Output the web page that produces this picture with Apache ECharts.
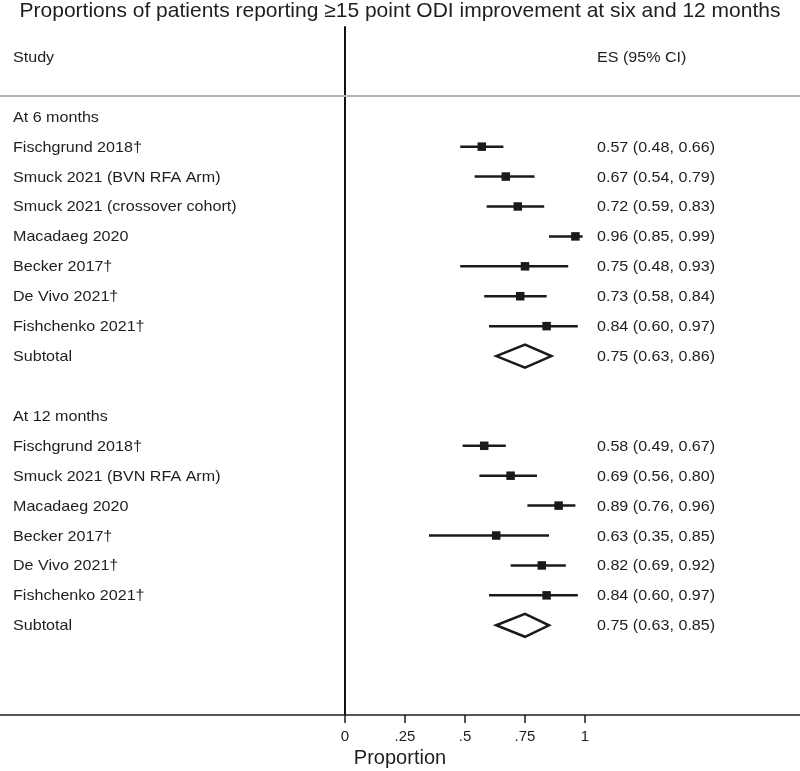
<!DOCTYPE html>
<html><head><meta charset="utf-8">
<script src="https://cdn.jsdelivr.net/npm/echarts@6/dist/echarts.min.js"></script>
<style>html,body{margin:0;padding:0;background:#fff}#c{width:800px;height:771px}</style>
</head><body><div id="c"></div>
<script>
const titleText = 'Proportions of patients reporting \u226515 point ODI improvement at six and 12 months';
const groupNames = ['At 6 months', 'At 12 months'];
const studies6 = ['Fischgrund 2018\u2020', 'Smuck 2021 (BVN RFA Arm)', 'Smuck 2021 (crossover cohort)', 'Macadaeg 2020', 'Becker 2017\u2020', 'De Vivo 2021\u2020', 'Fishchenko 2021\u2020'];
const es6 = [0.57, 0.67, 0.72, 0.96, 0.75, 0.73, 0.84];
const lo6 = [0.48, 0.54, 0.59, 0.85, 0.48, 0.58, 0.60];
const hi6 = [0.66, 0.79, 0.83, 0.99, 0.93, 0.84, 0.97];
const sub6 = [0.75, 0.63, 0.86];
const studies12 = ['Fischgrund 2018\u2020', 'Smuck 2021 (BVN RFA Arm)', 'Macadaeg 2020', 'Becker 2017\u2020', 'De Vivo 2021\u2020', 'Fishchenko 2021\u2020'];
const es12 = [0.58, 0.69, 0.89, 0.63, 0.82, 0.84];
const lo12 = [0.49, 0.56, 0.76, 0.35, 0.69, 0.60];
const hi12 = [0.67, 0.80, 0.96, 0.85, 0.92, 0.97];
const sub12 = [0.75, 0.63, 0.85];
const tickValues = [0, 0.25, 0.5, 0.75, 1];
const tickLabels = ['0', '.25', '.5', '.75', '1'];

const f2 = v => v.toFixed(2);
const esText = (e, l, h) => f2(e) + ' (' + f2(l) + ', ' + f2(h) + ')';

// build rows
const pointData = [], diamondData = [], textData = [];
textData.push([0, 0, 'Study', 'left']);
textData.push([0, 0, 'ES (95% CI)', 'right']);
let row = 2;
[[studies6, es6, lo6, hi6, sub6], [studies12, es12, lo12, hi12, sub12]].forEach((g, gi) => {
  textData.push([0, row, groupNames[gi], 'left']);
  row++;
  g[0].forEach((s, i) => {
    pointData.push([g[1][i], row, g[2][i], g[3][i]]);
    textData.push([0, row, s, 'left']);
    textData.push([0, row, esText(g[1][i], g[2][i], g[3][i]), 'right']);
    row++;
  });
  diamondData.push([g[4][0], row, g[4][1], g[4][2]]);
  textData.push([0, row, 'Subtotal', 'left']);
  textData.push([0, row, esText(g[4][0], g[4][1], g[4][2]), 'right']);
  row += 2;
});

const FONT = '"Liberation Sans", Arial, Helvetica, sans-serif';
const INK = '#1e1e1e';
const chart = echarts.init(document.getElementById('c'), null, {renderer: 'canvas'});
chart.setOption({
  animation: false,
  graphic: [{
    type: 'text', left: 'center', top: 1,
    style: {text: titleText, font: '21px ' + FONT, fill: INK}
  }],
  grid: {left: 0, right: 0, top: 27, bottom: 56, containLabel: false, outerBoundsMode: 'none'},
  xAxis: {
    type: 'value', min: -1.4375, max: 1.8958,
    splitLine: {show: false},
    axisLine: {onZero: false, lineStyle: {color: INK, width: 1.5}},
    axisTick: {customValues: tickValues, length: 8, lineStyle: {color: INK, width: 1.5}},
    axisLabel: {customValues: tickValues, formatter: v => tickLabels[tickValues.indexOf(v)] || '', fontFamily: FONT, fontSize: 15, color: INK, margin: 14},
    name: 'Proportion', nameLocation: 'middle', nameGap: 33,
    nameTextStyle: {fontFamily: FONT, fontSize: 20, color: INK}
  },
  yAxis: {
    type: 'value', inverse: true, min: -1, max: 22,
    splitLine: {show: false},
    axisLine: {show: true, onZero: true, lineStyle: {color: '#111', width: 2}},
    axisTick: {show: false}, axisLabel: {show: false}
  },
  series: [
    {
      type: 'custom', data: textData, silent: true,
      renderItem: (params, api) => {
        const y = api.coord([0, api.value(1)])[1] + 1;
        const side = textData[params.dataIndex][3];
        const x = side === 'left' ? 13 : 597;
        return {type: 'text', x: x, y: y, scaleX: 1.11,
          style: {text: textData[params.dataIndex][2], x: 0, y: 0, verticalAlign: 'middle', align: 'left', font: '14.5px ' + FONT, fill: INK}};
      },
      markLine: {silent: true, symbol: 'none', label: {show: false}, lineStyle: {color: '#b5b5b5', width: 2, type: 'solid'}, data: [{yAxis: 1.3}]}
    },
    {
      type: 'custom', data: pointData,
      renderItem: (params, api) => {
        const p = api.coord([api.value(0), api.value(1)]);
        const l = api.coord([api.value(2), api.value(1)]);
        const h = api.coord([api.value(3), api.value(1)]);
        const s = 8.5;
        return {type: 'group', children: [
          {type: 'line', shape: {x1: l[0], y1: p[1], x2: h[0], y2: p[1]}, style: {stroke: '#1a1a1a', lineWidth: 2.5}},
          {type: 'rect', shape: {x: p[0] - s / 2, y: p[1] - s / 2, width: s, height: s}, style: {fill: '#1a1a1a'}}
        ]};
      }
    },
    {
      type: 'custom', data: diamondData,
      renderItem: (params, api) => {
        const p = api.coord([api.value(0), api.value(1)]);
        const l = api.coord([api.value(2), api.value(1)]);
        const h = api.coord([api.value(3), api.value(1)]);
        const dh = 11.5;
        return {type: 'polygon', shape: {points: [[l[0], p[1]], [p[0], p[1] - dh], [h[0], p[1]], [p[0], p[1] + dh]]}, style: {fill: '#fff', stroke: '#1a1a1a', lineWidth: 2.5, lineJoin: 'miter'}};
      }
    }
  ]
});
</script></body></html>
